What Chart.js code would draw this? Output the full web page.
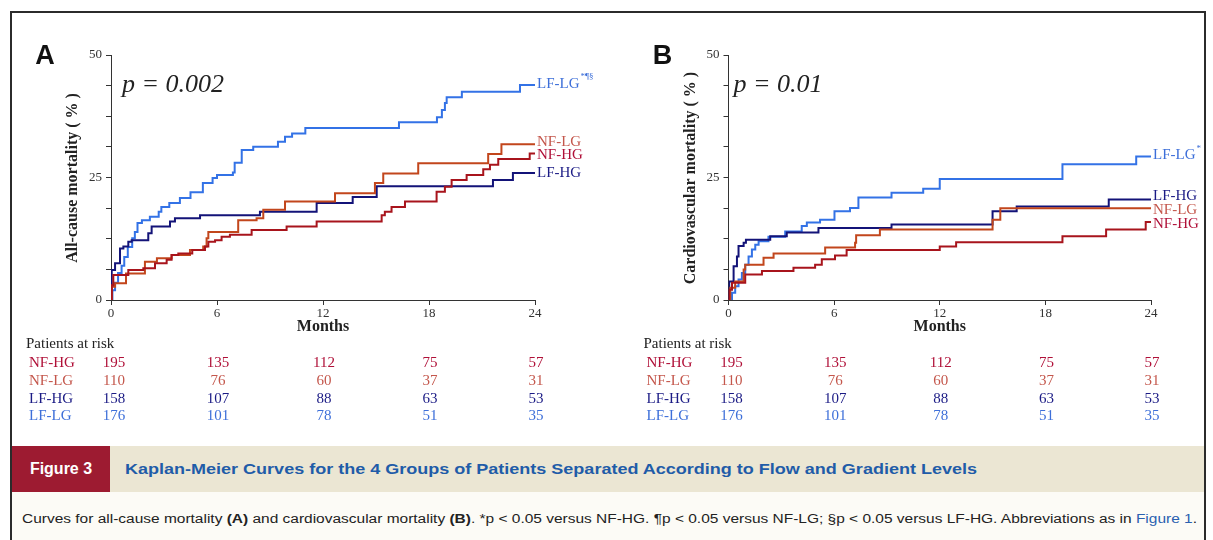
<!DOCTYPE html>
<html lang="en">
<head>
<meta charset="UTF-8">
<title>Figure 3 - Kaplan-Meier curves</title>
<style>
    body { margin: 0; background: #fff; }
    #page { position: relative; width: 1213px; height: 540px; overflow: hidden; background: #fff; }
    #frame { position: absolute; left: 10px; top: 11px; width: 1192px; height: 540px; border: 2px solid #2b2b2b; border-bottom: none; }
    canvas { position: absolute; top: 0; }
    #chartA { left: 0; }
    #chartB { left: 612px; }
    #band { position: absolute; left: 12px; top: 446px; width: 1192px; height: 46px; background: #ebe6d3; }
    #figtag { position: absolute; left: 0; top: 0; width: 98px; height: 46px; background: #9d1b31; color: #fff;
              font: bold 16px "Liberation Sans", Arial, sans-serif; line-height: 46px; text-align: center; }
    #title { position: absolute; left: 113px; top: 0; white-space: nowrap; color: #1f5ca8;
             font: bold 15px "Liberation Sans", Arial, sans-serif; line-height: 46px; transform-origin: left center; }
    #lower { position: absolute; left: 12px; top: 492px; width: 1192px; height: 48px; background: #fcfbf6; }
    #note { position: absolute; left: 22px; top: 512px; white-space: nowrap; color: #222;
            font: 12.5px "Liberation Sans", Arial, sans-serif; transform-origin: left center; }
    #note .ref { color: #2a60b0; }
</style>
<script src="https://cdn.jsdelivr.net/npm/chart.js"></script>
</head>
<body>
<div id="page">
    <div id="frame"></div>
    <canvas id="chartA" width="610" height="440"></canvas>
    <canvas id="chartB" width="601" height="440"></canvas>
    <div id="band">
        <div id="figtag">Figure 3</div>
        <span id="title">Kaplan-Meier Curves for the 4 Groups of Patients Separated According to Flow and Gradient Levels</span>
    </div>
    <div id="lower"></div>
    <div id="note">Curves for all-cause mortality <b>(A)</b> and cardiovascular mortality <b>(B)</b>. *p &lt; 0.05 versus NF-HG. ¶p &lt; 0.05 versus NF-LG; §p &lt; 0.05 versus LF-HG. Abbreviations as in <span class="ref">Figure 1</span>.</div>
</div>

<script>
    // groups and patients at risk (same table under both panels)
    const groups = ['NF-HG', 'NF-LG', 'LF-HG', 'LF-LG'];
    const riskMonths = [0, 6, 12, 18, 24];
    const atRiskNFHG = [195, 135, 112, 75, 57];
    const atRiskNFLG = [110, 76, 60, 37, 31];
    const atRiskLFHG = [158, 107, 88, 63, 53];
    const atRiskLFLG = [176, 101, 78, 51, 35];

    // A: all-cause mortality, [month, %]
    const allNFHG = [[0,0],[0.04,3.0],[0.13,5.1],[0.98,6.1],[1.83,6.5],[2.49,7.5],[3.15,8.2],[3.43,9.2],[3.81,9.5],
        [4.6,10.2],[5.32,10.9],[5.51,11.9],[5.89,12.2],[6.26,12.9],[6.73,13.3],[7.96,14.3],[9.94,15.0],[11.64,16.0],
        [15.32,17.3],[15.5,18.0],[15.88,19.0],[16.64,20.1],[18.43,22.1],[18.9,23.1],[19.28,24.5],[20.13,25.5],
        [21.07,26.7],[21.45,27.6],[21.92,28.8],[23.7,29.9],[24,29.9]];
    const allNFLG = [[0,0],[0.04,2.7],[0.23,3.4],[0.85,5.4],[1.92,7.8],[2.6,8.5],[3.43,9.2],[4.47,10.2],[5.22,10.9],
        [5.41,12.6],[5.51,13.9],[7.2,16.3],[8.24,16.7],[8.62,18.4],[9.85,20.1],[12.68,21.8],[14.94,23.9],[15.41,25.8],
        [17.39,27.9],[21.35,29.8],[22.1,31.8],[24,31.8]];
    const allLFHG = [[0,0],[0.04,6.1],[0.23,7.5],[0.51,10.5],[0.7,10.9],[0.98,11.9],[1.17,12.2],[2.11,13.6],[2.3,15.0],
        [3.34,16.0],[3.62,16.7],[5.04,17.3],[8.43,18.0],[11.64,19.8],[13.68,21.0],[15.04,23.2],[21.62,24.5],
        [22.75,25.9],[24,25.9]];
    const allLFLG = [[0,0],[0.08,2.0],[0.23,3.5],[0.4,5.5],[0.6,7.0],[0.75,8.8],[0.95,10.8],[1.2,12.6],[1.35,13.9],
        [1.5,15.7],[1.75,16.3],[2.2,17.0],[2.7,18.0],[2.85,19.0],[3.3,19.8],[3.9,20.8],[4.5,22.0],[5.2,23.9],
        [5.75,24.9],[6.0,25.5],[6.9,26.0],[7.0,28.0],[7.4,30.6],[8.05,31.3],[9.45,32.3],[9.85,33.3],[10.25,34.0],
        [11.0,35.1],[16.3,36.3],[18.45,37.3],[18.73,38.8],[18.9,40.2],[19.0,41.4],[19.86,42.5],[23.15,43.9],[24,43.9]];

    // B: cardiovascular mortality, [month, %]
    const cvNFHG = [[0,0],[0.04,2.1],[0.2,3.5],[0.95,5.2],[1.9,5.9],[3.69,6.6],[4.92,7.2],[5.3,8.3],[6.05,9.1],
        [6.71,10.2],[12.0,10.9],[12.93,11.8],[18.97,13.0],[21.45,14.4],[23.7,15.9],[24,15.9]];
    const cvNFLG = [[0,0],[0.1,2.5],[0.38,3.8],[0.86,6.2],[0.95,7.2],[1.99,8.6],[2.56,9.5],[5.49,10.7],[7.19,11.7],
        [7.25,13.2],[8.6,14.4],[15.0,16.4],[15.44,18.7],[24,18.7]];
    const cvLFHG = [[0,0],[0.04,3.8],[0.29,6.9],[0.48,8.9],[0.57,11.0],[0.86,11.7],[0.99,12.3],[2.37,13.0],
        [3.31,13.8],[5.11,14.7],[9.26,15.4],[15.0,18.1],[16.37,19.1],[21.6,20.5],[24,20.5]];
    const cvLFLG = [[0,0],[0.2,1.5],[0.38,2.8],[0.57,4.2],[0.76,5.5],[0.95,7.2],[1.14,8.9],[1.33,10.3],[1.52,11.3],
        [1.71,12.0],[2.27,12.9],[3.22,14.0],[4.16,15.1],[4.45,15.8],[5.2,16.4],[6.02,18.1],[6.9,18.8],[7.38,20.9],
        [9.26,21.9],[11.06,22.7],[12.0,24.7],[18.97,27.7],[23.16,29.3],[24,29.3]];

    const lineColor = { 'NF-HG': '#a8141c', 'NF-LG': '#c2461c', 'LF-HG': '#131378', 'LF-LG': '#3372e6' };
    const textColor = { 'NF-HG': '#b01038', 'NF-LG': '#c4574c', 'LF-HG': '#1b1b85', 'LF-LG': '#3d6fd9' };
    const atRisk = [atRiskNFHG, atRiskNFLG, atRiskLFHG, atRiskLFLG];

    Chart.defaults.font.family = '"Liberation Serif", "Times New Roman", serif';

    // texts around each panel: letter, p value, axis titles, end labels, risk table
    const panelText = {
        id: 'panelText',
        afterDraw(chart, args, o) {
            const ctx = chart.ctx, a = chart.chartArea;
            const xs = chart.scales.x, ys = chart.scales.y;
            const serif = '"Liberation Serif", "Times New Roman", serif';
            ctx.save();
            ctx.fillStyle = '#111';
            ctx.font = 'bold 27px "Liberation Sans", Arial, sans-serif';
            ctx.textAlign = 'center';
            ctx.textBaseline = 'middle';
            ctx.fillText(o.letter, a.left - 66, 57);

            ctx.fillStyle = '#222';
            ctx.font = 'italic 26px ' + serif;
            ctx.textAlign = 'left';
            ctx.textBaseline = 'alphabetic';
            ctx.fillText(o.pText, a.left + o.pDx, 92);

            ctx.save();
            ctx.translate(a.left - 38, 178);
            ctx.rotate(-Math.PI / 2);
            ctx.font = 'bold 16px ' + serif;
            ctx.textAlign = 'center';
            ctx.textBaseline = 'middle';
            ctx.fillText(o.yTitle, 0, 0);
            ctx.restore();

            ctx.font = 'bold 16px ' + serif;
            ctx.textAlign = 'center';
            ctx.textBaseline = 'middle';
            ctx.fillText('Months', xs.getPixelForValue(12), 327);

            // curve end labels
            ctx.textAlign = 'left';
            chart.data.datasets.forEach((d, i) => {
                const last = d.data[d.data.length - 1];
                const y = ys.getPixelForValue(last.y) + o.labelDy[i];
                ctx.font = '15px ' + serif;
                ctx.fillStyle = textColor[d.label];
                ctx.fillText(d.label, a.right + 2, y);
                if (o.marks[i]) {
                    const w = ctx.measureText(d.label).width;
                    ctx.font = '9px ' + serif;
                    ctx.fillText(o.marks[i], a.right + 3 + w, y - 7);
                }
            });

            // patients at risk
            ctx.font = '15px ' + serif;
            ctx.fillStyle = '#222';
            ctx.fillText('Patients at risk', a.left - 85, 344);
            const rowY = [363, 381, 399, 416.5];
            groups.forEach((g, i) => {
                ctx.fillStyle = textColor[g];
                ctx.textAlign = 'left';
                ctx.fillText(g, a.left - 82, rowY[i]);
                ctx.textAlign = 'center';
                riskMonths.forEach((m, j) => {
                    ctx.fillText(String(atRisk[i][j]), xs.getPixelForValue(m) + (j === 0 ? 3 : 1), rowY[i]);
                });
            });
            ctx.restore();
        }
    };

    function makeChart(id, series, panel, padding) {
        const datasets = groups.map((g, i) => ({
            label: g,
            data: series[i].map(p => ({ x: p[0], y: p[1] })),
            borderColor: lineColor[g],
            borderWidth: 2,
            pointRadius: 0,
            stepped: true,
            fill: false
        }));
        return new Chart(document.getElementById(id), {
            type: 'line',
            data: { datasets: datasets },
            options: {
                responsive: false,
                animation: false,
                devicePixelRatio: 1,
                layout: { padding: padding },
                plugins: { legend: { display: false }, tooltip: { enabled: false }, panelText: panel },
                scales: {
                    x: {
                        type: 'linear', min: 0, max: 24,
                        ticks: { stepSize: 6, color: '#333', font: { size: 13 }, padding: 1 },
                        grid: { drawOnChartArea: false, tickLength: 5, color: '#333' },
                        border: { color: '#333', width: 1 },
                        afterFit: s => { s.height = 22; }
                    },
                    y: {
                        min: 0, max: 50,
                        ticks: { stepSize: 6.25, autoSkip: false, color: '#333', font: { size: 13 }, padding: 4,
                                 callback: v => (v % 25 === 0 ? v : '') },
                        grid: { drawOnChartArea: false, tickLength: 5, color: '#333' },
                        border: { color: '#333', width: 1 },
                        afterFit: s => { s.width = 40; }
                    }
                }
            },
            plugins: [panelText]
        });
    }

    makeChart('chartA', [allNFHG, allNFLG, allLFHG, allLFLG], {
        letter: 'A', pText: 'p = 0.002', pDx: 11, yTitle: 'All-cause mortality ( % )',
        labelDy: [1.5, -2, 0, -1], marks: ['', '', '', '*¶§']
    }, { left: 71, top: 55, right: 75, bottom: 118 });

    makeChart('chartB', [cvNFHG, cvNFLG, cvLFHG, cvLFLG], {
        letter: 'B', pText: 'p = 0.01', pDx: 5, yTitle: 'Cardiovascular mortality ( % )',
        labelDy: [1.5, 2, -3, -1], marks: ['', '', '', '*']
    }, { left: 76.5, top: 55, right: 62, bottom: 118 });

    // squeeze caption lines to the width they take in the figure
    function fitWidth(id, target) {
        const el = document.getElementById(id);
        el.style.transform = 'scaleX(' + (target / el.getBoundingClientRect().width) + ')';
    }
    fitWidth('title', 852);
    fitWidth('note', 1175);
</script>
</body>
</html>
